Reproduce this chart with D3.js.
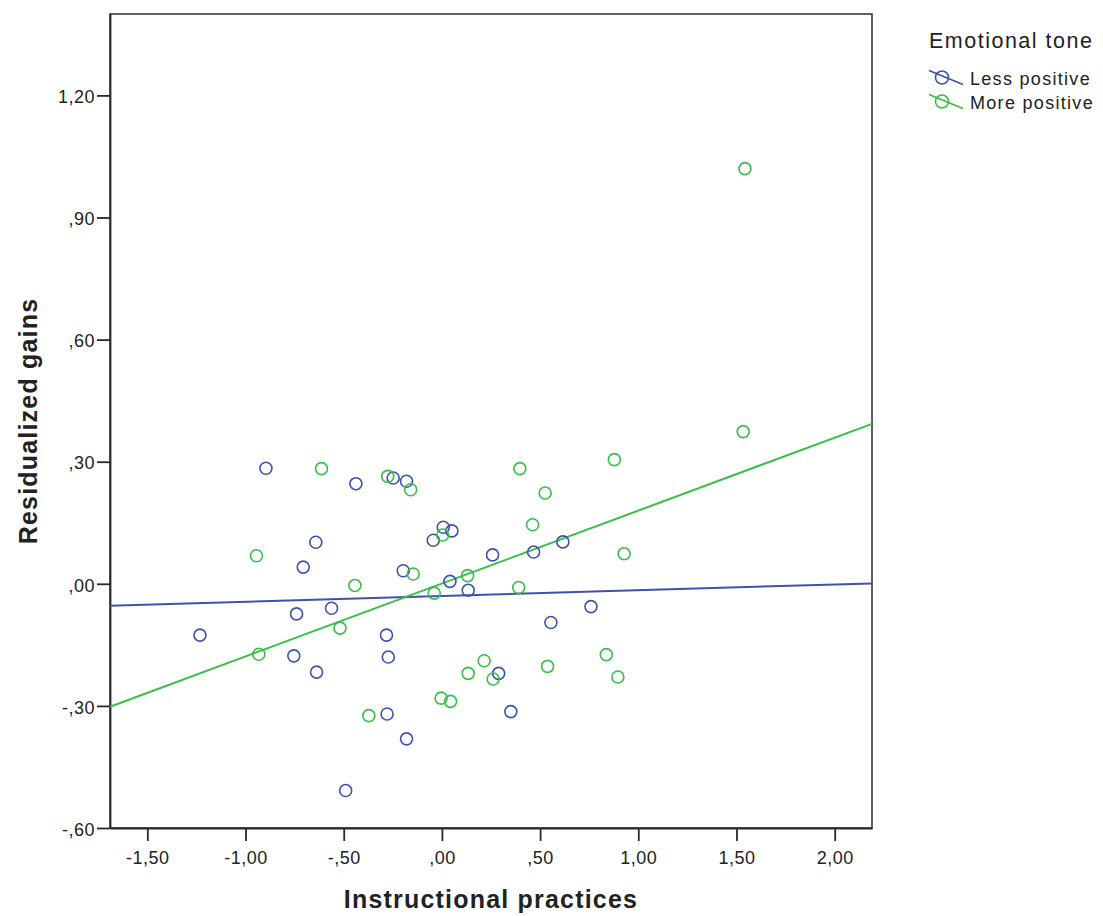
<!DOCTYPE html>
<html>
<head>
<meta charset="utf-8">
<script src="https://cdn.jsdelivr.net/npm/d3@7"></script>
<style>
  html, body { margin: 0; padding: 0; background: #fff; }
  svg { display: block; }
  text { font-family: "Liberation Sans", Arial, sans-serif; fill: #222; }
</style>
</head>
<body>
<svg id="chart" width="1103" height="916"></svg>
<script>
// ---- Data ----
const seriesNames = ["Less positive", "More positive"];
const seriesColors = ["#3d52b0", "#38bf48"];

const lessX = [-0.896, -0.438, -0.248, -0.180, 0.007, 0.051, -0.044, -0.642, -0.706, -0.197,
               0.041, 0.134, 0.258, 0.467, 0.616, 0.759, 0.555, -0.740, -0.562, -1.232,
               -0.282, -0.754, -0.273, -0.638, 0.289, -0.279, -0.180, 0.351, -0.490];
const lessY = [0.284, 0.246, 0.260, 0.252, 0.139, 0.130, 0.107, 0.102, 0.041, 0.032,
               0.006, -0.016, 0.071, 0.078, 0.103, -0.056, -0.095, -0.074, -0.060, -0.126,
               -0.126, -0.177, -0.180, -0.217, -0.220, -0.320, -0.381, -0.314, -0.508];

const moreX = [1.543, 1.534, -0.613, -0.276, -0.159, 0.004, -0.944, -0.146, -0.443, -0.039,
               0.131, 0.397, 0.878, 0.526, 0.462, 0.928, 0.391, -0.519, -0.932, 0.837,
               0.538, 0.896, 0.215, 0.134, 0.261, -0.004, 0.044, -0.372];
const moreY = [1.020, 0.374, 0.283, 0.264, 0.231, 0.120, 0.069, 0.024, -0.004, -0.023,
               0.020, 0.283, 0.305, 0.223, 0.145, 0.074, -0.009, -0.109, -0.173, -0.174,
               -0.203, -0.229, -0.189, -0.220, -0.234, -0.281, -0.289, -0.324];

// Fit lines (endpoints at the x-axis limits)
const fitX = [-1.69, 2.19];
const lessFitY = [-0.054, 0.001];
const moreFitY = [-0.302, 0.393];

const xTickValues = [-1.5, -1.0, -0.5, 0, 0.5, 1.0, 1.5, 2.0];
const xTickLabels = ["-1,50", "-1,00", "-,50", ",00", ",50", "1,00", "1,50", "2,00"];
const yTickValues = [-0.6, -0.3, 0, 0.3, 0.6, 0.9, 1.2];
const yTickLabels = ["-,60", "-,30", ",00", ",30", ",60", ",90", "1,20"];

const xTitle = "Instructional practices";
const yTitle = "Residualized gains";
const legendTitle = "Emotional tone";

// ---- Drawing ----
const svg = d3.select("#chart");
const L = 110, R = 872, T = 14, B = 828;

const x = d3.scaleLinear().domain([-1.69, 2.19]).range([L, R]);
const y = d3.scaleLinear().domain([-0.6, 1.4]).range([B, T]);

// frame
svg.append("rect")
  .attr("x", L).attr("y", T).attr("width", R - L).attr("height", B - T)
  .attr("fill", "none").attr("stroke", "#3a3a3a").attr("stroke-width", 1.6);

const xAxis = d3.axisBottom(x)
  .tickValues(xTickValues)
  .tickFormat((d, i) => xTickLabels[i])
  .tickSize(13).tickSizeOuter(0).tickPadding(6);
const gx = svg.append("g").attr("transform", `translate(0,${B})`).call(xAxis);

const yAxis = d3.axisLeft(y)
  .tickValues(yTickValues)
  .tickFormat((d, i) => yTickLabels[i])
  .tickSize(13).tickSizeOuter(0).tickPadding(2);
const gy = svg.append("g").attr("transform", `translate(${L},0)`).call(yAxis);

[gx, gy].forEach(g => {
  g.select(".domain").attr("stroke", "#2a2a2a").attr("stroke-width", 1.8);
  g.selectAll(".tick line").attr("stroke", "#2a2a2a").attr("stroke-width", 1.8);
  g.selectAll(".tick text")
    .attr("fill", "#222")
    .style("font-family", '"Liberation Sans", Arial, sans-serif')
    .style("font-size", "18px")
    .style("letter-spacing", "0.5px");
});
gy.selectAll(".tick text").attr("dy", "0.4em");
gx.selectAll(".tick text").attr("dy", "0.95em");

// axis titles
svg.append("text")
  .attr("x", (L + R) / 2).attr("y", 908)
  .attr("text-anchor", "middle")
  .style("font-weight", "bold").style("font-size", "25px").style("letter-spacing", "1.2px")
  .text(xTitle);

svg.append("text")
  .attr("transform", `translate(37,${(T + B) / 2}) rotate(-90)`)
  .attr("text-anchor", "middle")
  .style("font-weight", "bold").style("font-size", "25px").style("letter-spacing", "1.2px")
  .text(yTitle);

// fit lines
const line = d3.line().x(d => x(d[0])).y(d => y(d[1]));
const fits = [lessFitY, moreFitY];
fits.forEach((fy, i) => {
  svg.append("path")
    .datum(fitX.map((v, j) => [v, fy[j]]))
    .attr("d", line)
    .attr("fill", "none")
    .attr("stroke", seriesColors[i])
    .attr("stroke-width", 2);
});

// points
const series = [
  lessX.map((v, i) => [v, lessY[i]]),
  moreX.map((v, i) => [v, moreY[i]])
];
series.forEach((pts, i) => {
  svg.append("g").selectAll("circle")
    .data(pts).join("circle")
    .attr("cx", d => x(d[0])).attr("cy", d => y(d[1]))
    .attr("r", 6)
    .attr("fill", "none")
    .attr("stroke", seriesColors[i])
    .attr("stroke-width", 1.6);
});

// legend
const lg = svg.append("g");
lg.append("text")
  .attr("x", 929).attr("y", 48)
  .style("font-size", "21.5px").style("letter-spacing", "1.5px")
  .text(legendTitle);

seriesNames.forEach((name, i) => {
  const cy = 77.5 + i * 24;
  lg.append("line")
    .attr("x1", 929).attr("y1", cy - 7)
    .attr("x2", 963).attr("y2", cy + 7)
    .attr("stroke", seriesColors[i]).attr("stroke-width", 1.6);
  lg.append("circle")
    .attr("cx", 942).attr("cy", cy).attr("r", 6.5)
    .attr("fill", "none").attr("stroke", seriesColors[i]).attr("stroke-width", 1.6);
  lg.append("text")
    .attr("x", 970).attr("y", cy + 7.5)
    .style("font-size", "18px").style("letter-spacing", "1.3px")
    .text(name);
});
</script>
</body>
</html>
